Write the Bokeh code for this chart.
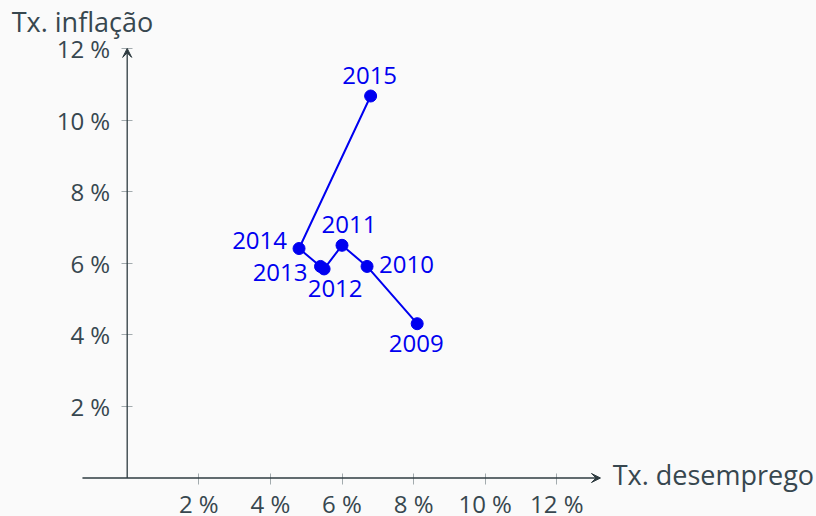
from bokeh.plotting import figure
from bokeh.models import (Range1d, LinearAxis, FixedTicker, Arrow, VeeHead,
                          Label, ColumnDataSource)
from bokeh.core.properties import value
from bokeh.embed import file_html
from bokeh.resources import INLINE

# ---- data ----
years = ["2009", "2010", "2011", "2012", "2013", "2014", "2015"]
unemployment = [8.1, 6.7, 6.0, 5.5, 5.4, 4.8, 6.8]      # % (x)
inflation = [4.31, 5.91, 6.50, 5.84, 5.91, 6.41, 10.67]  # % (y)
tick_values = [2, 4, 6, 8, 10, 12]
tick_labels = ["2 %", "4 %", "6 %", "8 %", "10 %", "12 %"]
x_title = "Tx. desemprego"
y_title = "Tx. inflação"

# ---- label placement (screen px offsets, style only) ----
label_align = {"2009": "center", "2010": "left", "2011": "center", "2012": "center",
               "2013": "right", "2014": "right", "2015": "center"}
label_dx = {"2009": -1, "2010": 12, "2011": 7, "2012": 11, "2013": -13, "2014": -12, "2015": -1}
label_dy = {"2009": 20, "2010": -2, "2011": -21, "2012": 20, "2013": 6, "2014": -8, "2015": -21}

# ---- layout ----
W, H = 816, 516
SCALE = 35.8           # px per percentage point
OX, OY = 126.7, 477.5  # origin in figure px
FONT = "Open Sans"
TXT = "#37474f"
AX = "#2e3b40"
TICK = "#a3abae"
BLUE = "#0000f0"
BG = "#fafafa"

p = figure(width=W, height=H, output_backend="svg", toolbar_location=None,
           x_axis_location=None, y_axis_location=None, min_border=0,
           x_range=Range1d(-OX / SCALE, (W - OX) / SCALE),
           y_range=Range1d(-(H - OY) / SCALE, OY / SCALE),
           background_fill_color=BG, border_fill_color=BG, outline_line_color=None)
p.grid.visible = False

overrides = {v: l for v, l in zip(tick_values, tick_labels)}

def make_axis():
    ax = LinearAxis(fixed_location=0, ticker=FixedTicker(ticks=tick_values),
                    major_label_overrides=overrides, axis_line_color=None,
                    major_tick_line_color=TICK, major_tick_line_width=1,
                    major_tick_in=5, major_tick_out=6, minor_tick_line_color=None,
                    major_label_text_font=FONT, major_label_text_font_size="24px",
                    major_label_text_color=TXT)
    return ax

xa = make_axis()
xa.major_label_standoff = 3
p.add_layout(xa, "below")
ya = make_axis()
ya.major_label_standoff = 11
p.add_layout(ya, "left")

# axis lines with arrows
p.add_layout(Arrow(end=VeeHead(size=9, fill_color=AX, line_color=AX, line_width=1),
                   x_start=-1.25, y_start=0, x_end=13.22, y_end=0,
                   line_color=AX, line_width=1.3))
p.add_layout(Arrow(end=VeeHead(size=9, fill_color=AX, line_color=AX, line_width=1),
                   x_start=0, y_start=0, x_end=0, y_end=12.0,
                   line_color=AX, line_width=1.3))

p.add_layout(Label(x=-1.25, y=12.75, text=y_title, text_align="center",
                   text_baseline="alphabetic", text_font=FONT,
                   text_font_size="27px", text_color=TXT))
p.add_layout(Label(x=13.56, y=0.11, text=x_title, text_align="left",
                   text_baseline="alphabetic", text_font=FONT,
                   text_font_size="27px", text_color=TXT))

src = ColumnDataSource(dict(
    x=unemployment, y=inflation, year=years,
    align=[label_align[y] for y in years],
    dx=[label_dx[y] for y in years],
    dy=[label_dy[y] for y in years],
))

p.line("x", "y", source=src, line_color=BLUE, line_width=2)
p.scatter("x", "y", source=src, size=12, fill_color=BLUE, line_color=BLUE)
p.text(x="x", y="y", text="year", source=src, text_align="align",
       text_baseline="alphabetic", x_offset="dx", y_offset="dy",
       text_font=value(FONT), text_font_size="24px", text_color=BLUE)

html = file_html(p, INLINE)
html = html.replace("<head>", "<head><style>body{background:#fafafa;}</style>", 1)
open("out.html", "w").write(html)
